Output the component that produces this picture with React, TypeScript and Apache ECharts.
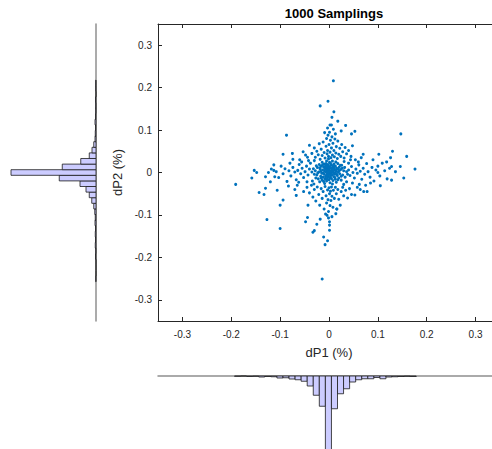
import React, { useEffect, useRef } from "react";
import * as echarts from "echarts";

const TITLE = "1000 Samplings";
const X_NAME = "dP1 (%)";
const Y_NAME = "dP2 (%)";
const X_TICKS = [-0.3, -0.2, -0.1, 0, 0.1, 0.2, 0.3];
const Y_TICKS = [-0.3, -0.2, -0.1, 0, 0.1, 0.2, 0.3];

// core cluster
const CORE: number[][] = [
  [-0.028,0.004],[-0.025,-0.006],[-0.024,0.012],[-0.022,-0.015],[-0.021,0.001],[-0.020,0.019],[-0.019,-0.022],[-0.018,0.008],[-0.017,-0.009],[-0.016,0.015],
  [-0.015,-0.002],[-0.014,0.024],[-0.014,-0.018],[-0.013,0.006],[-0.012,-0.011],[-0.011,0.013],[-0.010,-0.004],[-0.010,0.020],[-0.009,-0.026],[-0.009,0.003],
  [-0.008,-0.015],[-0.008,0.009],[-0.007,0.016],[-0.006,-0.007],[-0.006,0.001],[-0.005,0.027],[-0.005,-0.020],[-0.004,0.011],[-0.004,-0.003],[-0.003,0.005],
  [-0.003,-0.012],[-0.002,0.019],[-0.002,-0.008],[-0.001,0.000],[-0.001,0.032],[0.000,-0.017],[0.000,0.008],[0.001,-0.003],[0.001,0.014],[0.002,-0.024],
  [0.002,0.004],[0.003,0.022],[0.003,-0.009],[0.004,0.010],[0.004,-0.001],[0.005,-0.014],[0.005,0.017],[0.006,0.003],[0.007,-0.006],[0.007,0.027],
  [0.008,-0.019],[0.008,0.012],[0.009,0.000],[0.010,-0.010],[0.010,0.020],[0.011,0.006],[0.012,-0.004],[0.013,0.015],[0.013,-0.016],[0.014,0.002],
  [0.015,-0.023],[0.016,0.010],[0.017,-0.007],[0.018,0.021],[0.019,0.001],[0.020,-0.013],[0.021,0.013],[0.022,-0.003],[0.024,0.007],[0.025,-0.018],
  [0.026,0.017],[0.028,-0.006],[0.030,0.004],[0.032,0.012],[0.033,-0.011],
  [-0.027,-0.013],[-0.026,0.016],[-0.023,-0.001],[-0.019,0.011],[-0.017,0.003],[-0.016,-0.013],[-0.013,0.018],[-0.012,-0.001],[-0.011,-0.021],[-0.009,0.012],
  [-0.007,-0.010],[-0.006,0.021],[-0.005,0.006],[-0.004,-0.016],[-0.003,0.015],[-0.002,0.002],[-0.001,-0.006],[0.000,0.012],[0.001,0.024],[0.002,-0.013],
  [0.003,0.001],[0.004,0.018],[0.005,-0.005],[0.006,0.009],[0.007,-0.027],[0.008,0.004],[0.009,0.016],[0.010,-0.002],[0.011,0.010],[0.012,-0.012],
  [0.014,0.025],[0.015,0.006],[0.016,-0.004],[0.018,-0.017],[0.019,0.008],[0.021,0.004],[0.023,0.017],[0.025,-0.009],[0.027,0.010],[-0.030,-0.004],
  [-0.032,0.009],[-0.035,0.001],[0.036,0.002],[0.038,-0.004],
  [-0.038,0.022],[-0.034,-0.020],[-0.042,0.028],[-0.045,-0.022],[0.040,0.022],[0.036,-0.022],[0.044,0.030],[0.048,-0.025],[-0.030,0.028],[0.031,0.026],
  [-0.031,-0.027],[0.030,-0.028],
];

const UPPER: number[][] = [
  [-0.040,0.064],[-0.053,0.049],[-0.035,0.045],[-0.030,0.058],[-0.028,0.036],[-0.025,0.050],[-0.022,0.042],[-0.020,0.068],[-0.018,0.031],[-0.016,0.055],
  [-0.014,0.040],[-0.012,0.072],[-0.010,0.047],[-0.008,0.034],[-0.006,0.062],[-0.005,0.080],[-0.004,0.044],[-0.003,0.052],[-0.002,0.088],[-0.001,0.038],
  [0.000,0.066],[0.001,0.095],[0.002,0.048],[0.003,0.076],[0.004,0.035],[0.005,0.058],[0.006,0.084],[0.007,0.041],[0.008,0.069],[0.010,0.052],
  [0.011,0.037],[0.012,0.079],[0.014,0.046],[0.015,0.061],[0.017,0.033],[0.018,0.074],[0.020,0.043],[0.022,0.057],[0.024,0.038],[0.026,0.066],
  [0.028,0.049],[0.031,0.034],[0.033,0.059],[0.036,0.044],[0.040,0.052],[0.045,0.038],[0.048,0.063],[-0.044,0.036],[-0.048,0.041],[0.053,0.097],
  [0.046,0.091],[0.025,0.098],[-0.003,0.105],[0.002,0.112],[0.009,0.102],[0.013,0.091],[-0.009,0.094],[0.034,0.111],[0.018,0.121],[0.005,0.112],
  [0.010,0.143],[-0.002,0.168],[-0.018,0.157],[0.009,0.216],[0.006,0.130],
];

const LOWER: number[][] = [
  [-0.045,-0.035],[-0.040,-0.048],[-0.036,-0.030],[-0.033,-0.058],[-0.030,-0.040],[-0.027,-0.067],[-0.024,-0.034],[-0.021,-0.052],[-0.019,-0.077],[-0.016,-0.038],
  [-0.014,-0.061],[-0.012,-0.045],[-0.010,-0.086],[-0.008,-0.033],[-0.006,-0.055],[-0.005,-0.072],[-0.003,-0.041],[-0.002,-0.064],[-0.001,-0.092],[0.000,-0.036],
  [0.001,-0.050],[0.002,-0.078],[0.003,-0.044],[0.004,-0.066],[0.005,-0.034],[0.006,-0.056],[0.008,-0.082],[0.009,-0.042],[0.011,-0.061],[0.013,-0.035],
  [0.015,-0.050],[0.016,-0.086],[0.018,-0.040],[0.020,-0.063],[0.023,-0.077],[0.025,-0.045],[0.028,-0.035],[0.030,-0.055],[0.034,-0.042],[0.038,-0.060],
  [0.042,-0.038],[0.046,-0.052],[0.053,-0.053],[0.071,-0.045],[0.064,-0.040],[-0.067,-0.054],[-0.052,-0.045],[-0.043,-0.077],[-0.044,-0.106],[-0.048,-0.116],
  [-0.018,-0.110],[-0.025,-0.122],[-0.033,-0.141],[-0.030,-0.137],[-0.011,-0.152],[-0.003,-0.161],[-0.008,-0.170],[0.001,-0.136],[0.001,-0.124],[0.001,-0.116],
  [-0.001,-0.107],[-0.004,-0.101],[0.014,-0.097],[0.016,-0.086],[-0.014,-0.251],[-0.007,-0.098],[0.006,-0.104],
];

const LEFT_ARM: number[][] = [
  [-0.040,0.008],[-0.043,-0.006],[-0.046,0.015],[-0.049,0.002],[-0.052,-0.012],[-0.055,0.010],[-0.058,-0.003],[-0.061,0.019],[-0.064,0.005],[-0.067,-0.017],
  [-0.070,0.001],[-0.074,0.012],[-0.078,-0.008],[-0.082,0.004],[-0.086,-0.021],[-0.090,0.009],[-0.094,-0.003],[-0.098,0.015],[-0.103,-0.012],[-0.108,0.002],
  [-0.113,0.005],[-0.111,-0.010],[-0.118,0.008],[-0.124,0.000],[-0.130,-0.010],[-0.148,0.000],[-0.153,0.005],[-0.158,-0.013],[-0.191,-0.028],[-0.094,0.043],
  [-0.074,0.031],[-0.087,0.088],[-0.130,-0.037],[-0.143,-0.047],[-0.133,-0.052],[-0.106,-0.042],[-0.094,-0.065],[-0.100,-0.077],[-0.127,-0.111],[-0.100,-0.132],
  [-0.060,0.030],[-0.065,-0.030],[-0.080,0.022],[-0.070,-0.040],[-0.056,0.025],[-0.083,-0.032],[-0.113,0.018],[-0.120,-0.022],[-0.075,0.045],[-0.062,-0.023],
];

const RIGHT_ARM: number[][] = [
  [0.040,0.006],[0.043,-0.007],[0.046,0.014],[0.049,0.000],[0.052,-0.013],[0.055,0.008],[0.058,-0.002],[0.061,0.018],[0.064,0.003],[0.067,-0.016],
  [0.070,0.010],[0.073,-0.004],[0.077,0.021],[0.080,0.002],[0.084,-0.011],[0.088,0.012],[0.092,-0.020],[0.096,0.006],[0.100,0.015],[0.100,0.000],
  [0.104,-0.008],[0.109,0.022],[0.114,0.004],[0.119,-0.015],[0.124,0.010],[0.128,0.014],[0.128,-0.018],[0.105,-0.031],[0.146,0.014],[0.153,-0.013],
  [0.176,0.008],[0.147,0.091],[0.130,0.050],[0.159,0.038],[0.126,0.035],[0.102,0.043],[0.070,0.043],[0.066,0.035],[0.060,0.025],[0.075,-0.030],
  [0.085,-0.025],[0.090,0.030],[0.062,-0.028],[0.078,-0.045],[0.118,0.025],[0.136,0.002],[0.054,0.030],[0.058,-0.035],
];

// left histogram (dP2), bin centers and counts
const LEFT_BIN_WIDTH = 0.0132;
const LEFT_BIN_CENTERS = [
  -0.2508, -0.2376, -0.2244, -0.2112, -0.198, -0.1848, -0.1716, -0.1584, -0.1452, -0.132,
  -0.1188, -0.1056, -0.0924, -0.0792, -0.066, -0.0528, -0.0396, -0.0264, -0.0132, 0,
  0.0132, 0.0264, 0.0396, 0.0528, 0.066, 0.0792, 0.0924, 0.1056, 0.1188, 0.132,
  0.1452, 0.1584, 0.1716, 0.1848, 0.198, 0.2112,
];
const LEFT_COUNTS = [
  1, 0, 0, 0, 2, 1, 3, 2, 3, 2,
  4, 3, 5, 9, 17, 27, 40, 64, 147, 340,
  135, 61, 27, 16, 9, 4, 3, 2, 4, 2,
  1, 1, 2, 0, 1, 1,
];

// bottom histogram (dP1)
const BOTTOM_BIN_WIDTH = 0.0124;
const BOTTOM_BIN_CENTERS = [
  -0.1872, -0.1748, -0.1624, -0.15, -0.1376, -0.1252, -0.1128, -0.1004, -0.088, -0.0756,
  -0.0632, -0.0508, -0.0384, -0.026, -0.0136, -0.0012, 0.0112, 0.0236, 0.036, 0.0484,
  0.0608, 0.0732, 0.0856, 0.098, 0.1104, 0.1228, 0.1352, 0.1476, 0.16, 0.1724,
];
const BOTTOM_COUNTS = [
  1, 0, 2, 1, 4, 2, 3, 8, 7, 12,
  15, 21, 40, 77, 121, 380, 131, 71, 51, 24,
  15, 11, 11, 6, 11, 4, 3, 2, 1, 2,
];

const AXIS_COLOR = "#262626";
const HIST_AXIS_COLOR = "#8f8f8f";
const FONT = "'Liberation Sans', Arial, Helvetica, sans-serif";

export default function App() {
  const ref = useRef<HTMLDivElement>(null);
  useEffect(() => {
    if (!ref.current) return;
    const chart = echarts.init(ref.current, undefined, { renderer: "svg" });
    const points = [...CORE, ...UPPER, ...LOWER, ...LEFT_ARM, ...RIGHT_ARM];
    const leftData = LEFT_BIN_CENTERS.map((c, i) => [c, LEFT_COUNTS[i]]);
    const bottomData = BOTTOM_BIN_CENTERS.map((c, i) => [c, BOTTOM_COUNTS[i]]);
    const barStyle = { fill: "#ccccff", stroke: "#1a1a1a", lineWidth: 0.8 };
    const fmt = (v: number) => String(v);

    chart.setOption({
      animation: false,
      textStyle: { fontFamily: FONT },
      title: {
        text: TITLE,
        left: 329,
        top: 2,
        textAlign: "center",
        textStyle: { fontFamily: FONT, fontSize: 13, fontWeight: "bold", color: "#000" },
      },
      grid: [
        { left: 158, top: 24, width: 342, height: 297 },
        { left: 0, top: 24, width: 96, height: 297 },
        { left: 158, top: 376, width: 342, height: 100 },
      ],
      xAxis: [
        {
          gridIndex: 0, type: "value", min: -0.35, max: 0.35,
          name: X_NAME, nameLocation: "middle", nameGap: 25,
          nameTextStyle: { fontFamily: FONT, fontSize: 13, color: AXIS_COLOR },
          axisLine: { show: true, onZero: false, lineStyle: { color: AXIS_COLOR, width: 1 } },
          axisTick: { show: true, inside: true, length: 4, customValues: X_TICKS, lineStyle: { color: AXIS_COLOR } },
          axisLabel: { show: true, customValues: X_TICKS, formatter: fmt, margin: 8, fontSize: 10, fontFamily: FONT, color: AXIS_COLOR },
          splitLine: { show: false },
        },
        {
          gridIndex: 0, type: "value", min: -0.35, max: 0.35, position: "top",
          axisLine: { show: true, onZero: false, lineStyle: { color: AXIS_COLOR, width: 1 } },
          axisTick: { show: true, inside: true, length: 4, customValues: X_TICKS, lineStyle: { color: AXIS_COLOR } },
          axisLabel: { show: false },
          splitLine: { show: false },
        },
        {
          gridIndex: 1, type: "value", min: 0, max: 384, inverse: true, show: false,
        },
        {
          gridIndex: 2, type: "value", min: -0.35, max: 0.35, position: "top",
          axisLine: { show: true, onZero: false, lineStyle: { color: HIST_AXIS_COLOR, width: 1.5 } },
          axisTick: { show: false }, axisLabel: { show: false }, splitLine: { show: false },
        },
      ],
      yAxis: [
        {
          gridIndex: 0, type: "value", min: -0.35, max: 0.35,
          name: Y_NAME, nameLocation: "middle", nameGap: 21, nameRotate: 90,
          nameTextStyle: { fontFamily: FONT, fontSize: 13, color: AXIS_COLOR },
          axisLine: { show: true, onZero: false, lineStyle: { color: AXIS_COLOR, width: 1 } },
          axisTick: { show: true, inside: true, length: 4, customValues: Y_TICKS, lineStyle: { color: AXIS_COLOR } },
          axisLabel: { show: true, customValues: Y_TICKS, formatter: fmt, margin: 6, fontSize: 10, fontFamily: FONT, color: AXIS_COLOR },
          splitLine: { show: false },
        },
        {
          gridIndex: 1, type: "value", min: -0.35, max: 0.35, position: "right",
          axisLine: { show: true, onZero: false, lineStyle: { color: HIST_AXIS_COLOR, width: 1.5 } },
          axisTick: { show: false }, axisLabel: { show: false }, splitLine: { show: false },
        },
        {
          gridIndex: 2, type: "value", min: 0, max: 400, inverse: true, show: false,
        },
      ],
      series: [
        {
          type: "scatter", xAxisIndex: 0, yAxisIndex: 0,
          data: points, symbol: "circle", symbolSize: 3,
          itemStyle: { color: "#0072BD", opacity: 1 },
        },
        {
          type: "custom", xAxisIndex: 2, yAxisIndex: 1, clip: false,
          data: leftData,
          encode: { x: 1, y: 0 },
          renderItem: (params: any, api: any) => {
            const c = api.value(0);
            const n = api.value(1);
            const p1 = api.coord([n, c + LEFT_BIN_WIDTH / 2]);
            const p0 = api.coord([0, c - LEFT_BIN_WIDTH / 2]);
            return {
              type: "rect",
              shape: { x: p1[0], y: p1[1], width: p0[0] - p1[0], height: p0[1] - p1[1] },
              style: barStyle,
            };
          },
        },
        {
          type: "custom", xAxisIndex: 3, yAxisIndex: 2, clip: false,
          data: bottomData,
          encode: { x: 0, y: 1 },
          renderItem: (params: any, api: any) => {
            const c = api.value(0);
            const n = api.value(1);
            const p0 = api.coord([c - BOTTOM_BIN_WIDTH / 2, 0]);
            const p1 = api.coord([c + BOTTOM_BIN_WIDTH / 2, n]);
            return {
              type: "rect",
              shape: { x: p0[0], y: p0[1], width: p1[0] - p0[0], height: p1[1] - p0[1] },
              style: barStyle,
            };
          },
        },
      ],
    });
    return () => chart.dispose();
  }, []);
  return (
    <div style={{ position: "fixed", left: 0, top: 0, width: 492, height: 449, overflow: "hidden", background: "#fff" }}>
      <div ref={ref} style={{ width: 520, height: 500 }} />
    </div>
  );
}
